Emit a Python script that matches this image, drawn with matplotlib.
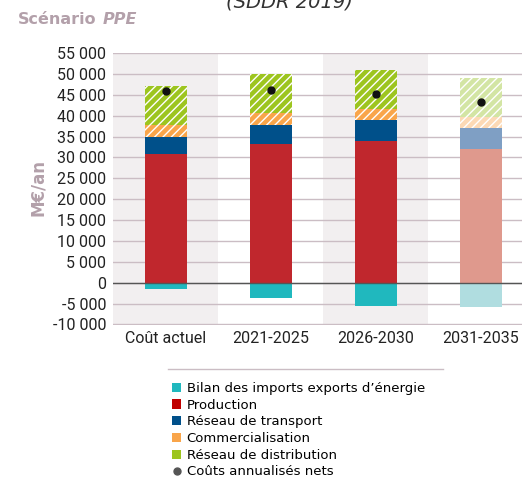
import matplotlib
matplotlib.use("Agg")
import matplotlib.pyplot as plt
from matplotlib.patches import Patch
from matplotlib.lines import Line2D
import numpy as np

# Données (M€/an)
periodes = ["Coût actuel", "2021-2025", "2026-2030", "2031-2035"]
bilan = [-1400, -3700, -5600, -5900]
production = [30700, 33100, 33900, 32000]
transport = [4100, 4650, 5050, 4950]
commercialisation = [3000, 2800, 2600, 2800]
distribution = [9350, 9350, 9350, 9350]
couts_nets = [45800, 46200, 45100, 43200]

series = ["Bilan des imports exports d’énergie", "Production", "Réseau de transport",
          "Commercialisation", "Réseau de distribution"]
couleurs = ["#20b8be", "#c0272d", "#00508a", "#f9a54a", "#9dc51f"]
couleurs_pales = ["#b0dde0", "#df998d", "#7f9fc4", "#fcd9b5", "#d3e5a4"]
legende_couleurs = ["#20b8be", "#c00000", "#00508a", "#f9a54a", "#9dc51f"]
hachures = [None, None, None, "////", "////"]

gris = "#b3a0aa"
grille = "#cbbdc4"

fig = plt.figure(figsize=(5.22, 4.94), dpi=100)
ax = fig.add_axes([113/522, 169.5/494, 420/522, 271.5/494])

x = np.arange(len(periodes))
larg = 0.4

# bandes grises derrière les colonnes 1 et 3
for i in [0, 2]:
    ax.axvspan(i - 0.5, i + 0.5, color="#f2eff0", zorder=0, lw=0)

for v in np.arange(-10000, 55001, 5000):
    ax.axhline(v, color=grille, lw=1.0, zorder=1)
ax.axhline(0, color="#555555", lw=1.0, zorder=4)

positifs = [production, transport, commercialisation, distribution]
for i in range(len(periodes)):
    cols = couleurs_pales if i == 3 else couleurs
    ax.bar(x[i], bilan[i], width=larg, color=cols[0], lw=0, zorder=3)
    bas = 0
    for k, serie in enumerate(positifs):
        ax.bar(x[i], serie[i], bottom=bas, width=larg, color=cols[k + 1],
               hatch=hachures[k + 1], edgecolor="white", lw=0, zorder=3)
        bas += serie[i]

ax.plot(x, couts_nets, "o", color="#111111", ms=5, zorder=5)

ax.set_xlim(-0.5, 3.5)
ax.set_ylim(-10000, 55000)
ax.set_yticks(np.arange(-10000, 55001, 5000))
ax.set_yticklabels([f"{v:,}".replace(",", " ") for v in range(-10000, 55001, 5000)])
ax.set_xticks(x)
ax.set_xticklabels(periodes)
ax.tick_params(length=0, labelsize=11.5, colors="#222222", pad=5)
for lab in ax.get_xticklabels() + ax.get_yticklabels():
    lab.set_family("Roboto")
for s in ax.spines.values():
    s.set_visible(False)

fig.text(0.555, (494 - 8) / 494, "(SDDR 2019)", style="italic", fontsize=14,
         color="#333333", ha="center", va="baseline")
t1 = fig.text(18/522, (494 - 24) / 494, "Scénario", fontsize=11.5, fontweight="bold",
              color=gris, ha="left", va="baseline")
ax.annotate("PPE", xy=(1, 0), xycoords=t1, xytext=(4, 0), textcoords="offset points",
            fontsize=11.5, fontweight="bold", style="italic", color=gris,
            ha="left", va="bottom", annotation_clip=False)
fig.text(38/522, (494 - 187) / 494, "M€/an", fontsize=12, fontweight="bold",
         color=gris, rotation=90, ha="center", va="center")

# ligne de séparation et légende
fig.add_artist(Line2D([168/522, 443/522], [(494 - 369) / 494] * 2,
                      color=grille, lw=1, transform=fig.transFigure))
poignees = [Patch(facecolor=c, edgecolor="none") for c in legende_couleurs]
poignees.append(Line2D([], [], marker="o", color="#555555", ls="none", ms=5))
fig.legend(poignees, series + ["Coûts annualisés nets"], loc="upper left",
           bbox_to_anchor=(172/522, (494 - 382) / 494), frameon=False,
           fontsize=9.5, handlelength=0.7, handleheight=0.7, handletextpad=0.4,
           labelspacing=0.28, borderpad=0, borderaxespad=0)

fig.savefig("out.png", dpi=100)
